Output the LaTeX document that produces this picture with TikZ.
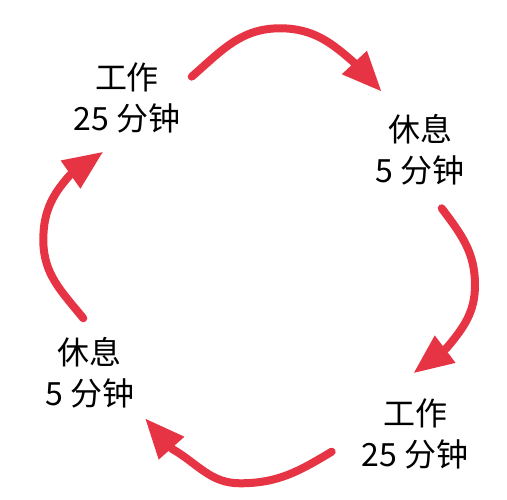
\documentclass[tikz,border=0pt]{standalone}
\usepackage{fontspec}
\setmainfont{Noto Sans CJK SC}
\usetikzlibrary{arrows.meta}
\definecolor{arrowred}{RGB}{230, 52, 68}
\tikzset{
    phase/.style={align=center, font=\fontsize{32}{41}\selectfont},
    cyclearrow/.style={arrowred, line width=8pt, line cap=round,
        -{Triangle[length=40pt, width=32pt]}},
}

\begin{document}
\begin{tikzpicture}[x=1pt, y=1pt]
    \useasboundingbox (0, 0) rectangle (507, 500);
    \node[phase] (work1) at (127, 402) {工作\\25 分钟};
    \node[phase] (rest1) at (420, 350) {休息\\5 分钟};
    \node[phase] (work2) at (415, 66) {工作\\25 分钟};
    \node[phase] (rest2) at (90, 127) {休息\\5 分钟};
    % arrow tails, turning points, head bases and tips
    \coordinate (w1out) at (191.7, 423.3);
    \coordinate (r1peak) at (280, 471.7);
    \coordinate (r1base) at (356.7, 435);
    \coordinate (r1in) at (381.7, 408.3);
    \coordinate (r1out) at (441.7, 291.7);
    \coordinate (w2side) at (475, 215);
    \coordinate (w2base) at (446.7, 152);
    \coordinate (w2in) at (413.3, 126.7);
    \coordinate (w2out) at (331.7, 48.3);
    \coordinate (r2low) at (240, 16.7);
    \coordinate (r2base) at (172.3, 51);
    \coordinate (r2in) at (145, 81.7);
    \coordinate (r2out) at (83.3, 181.7);
    \coordinate (w1side) at (43.3, 260);
    \coordinate (w1base) at (70, 325);
    \coordinate (w1in) at (103.3, 348.3);
    \draw[cyclearrow] (w1out) to[out=41, in=180] (r1peak)
        to[out=0, in=138] (r1base) -- (r1in);
    \draw[cyclearrow] (r1out) to[out=-53, in=90] (w2side)
        to[out=-90, in=50] (w2base) -- (w2in);
    \draw[cyclearrow] (w2out) to[out=211, in=0] (r2low)
        to[out=180, in=-30] (r2base) -- (r2in);
    \draw[cyclearrow] (r2out) to[out=129, in=-90] (w1side)
        to[out=90, in=228] (w1base) -- (w1in);
\end{tikzpicture}
\end{document}
